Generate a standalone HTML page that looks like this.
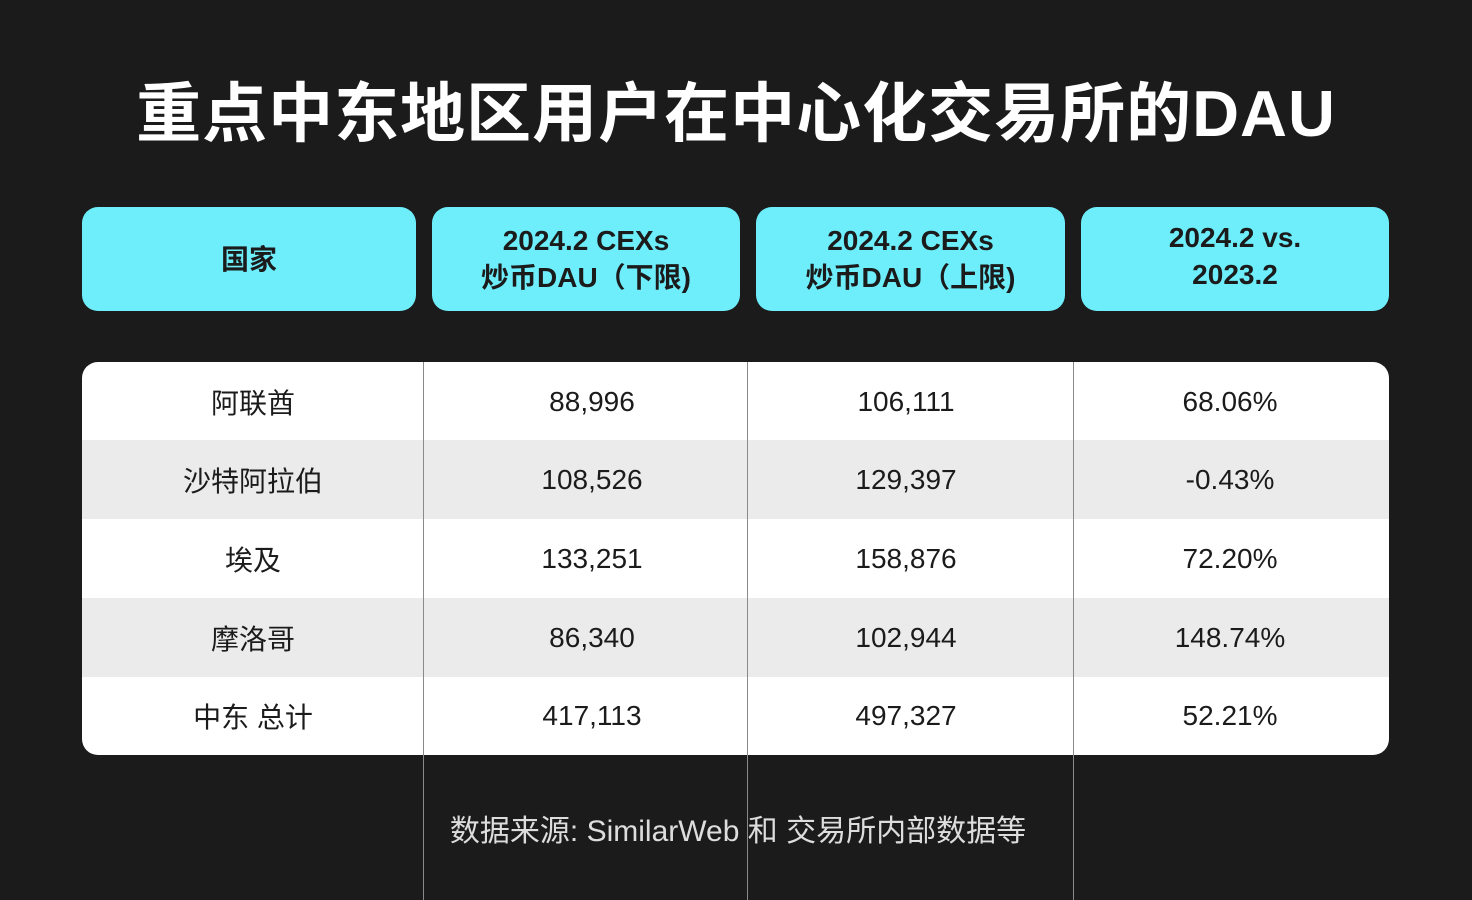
<!DOCTYPE html>
<html><head><meta charset="utf-8"><style>
body{margin:0;width:1472px;height:900px;background:#1b1b1b;position:relative;overflow:hidden;font-family:"Liberation Sans","Noto Sans CJK SC",sans-serif}
.t{position:absolute;left:0;width:1472px;top:74px;text-align:center;color:#fff;font-size:65px;font-weight:bold;line-height:80px;letter-spacing:1px}
.h{position:absolute;top:207px;height:104px;background:#6eeefb;border-radius:16px;display:flex;align-items:center;justify-content:center;text-align:center;font-weight:bold;font-size:28px;line-height:37px;color:#1b1b1b}
.tb{position:absolute;left:82px;top:362px;width:1307px;height:393px;border-radius:16px;overflow:hidden;background:#fff}
.r{position:absolute;left:0;width:1307px;height:79px;font-size:28px;color:#1b1b1b}
.r div{position:absolute;top:0;height:79px;width:300px;margin-left:-150px;display:flex;align-items:center;justify-content:center}
.r div:nth-child(1){left:171px}
.r div:nth-child(2){left:510px}
.r div:nth-child(3){left:824px}
.r div:nth-child(4){left:1148px}
.g{background:#ebebeb}
.v{position:absolute;top:362px;height:538px;width:1px;background:#8a8a8a}
.f{position:absolute;left:0;width:1476px;top:812px;text-align:center;color:#ddd;font-size:30px;line-height:40px}
</style></head><body>
<div class="t">重点中东地区用户在中心化交易所的DAU</div>
<div class="h" style="left:82px;width:334px">国家</div>
<div class="h" style="left:432px;width:308px">2024.2 CEXs<br>炒币DAU（下限)</div>
<div class="h" style="left:756px;width:309px">2024.2 CEXs<br>炒币DAU（上限)</div>
<div class="h" style="left:1081px;width:308px;padding-bottom:6px;box-sizing:border-box">2024.2 vs.<br>2023.2</div>
<div class="tb">
<div class="r" style="top:0"><div>阿联酋</div><div>88,996</div><div>106,111</div><div>68.06%</div></div>
<div class="r g" style="top:78px"><div>沙特阿拉伯</div><div>108,526</div><div>129,397</div><div>-0.43%</div></div>
<div class="r" style="top:157px"><div>埃及</div><div>133,251</div><div>158,876</div><div>72.20%</div></div>
<div class="r g" style="top:236px"><div>摩洛哥</div><div>86,340</div><div>102,944</div><div>148.74%</div></div>
<div class="r" style="top:314px"><div>中东 总计</div><div>417,113</div><div>497,327</div><div>52.21%</div></div>
</div>
<div class="v" style="left:423px"></div>
<div class="v" style="left:747px"></div>
<div class="v" style="left:1073px"></div>
<div class="f">数据来源: SimilarWeb 和 交易所内部数据等</div>
</body></html>
